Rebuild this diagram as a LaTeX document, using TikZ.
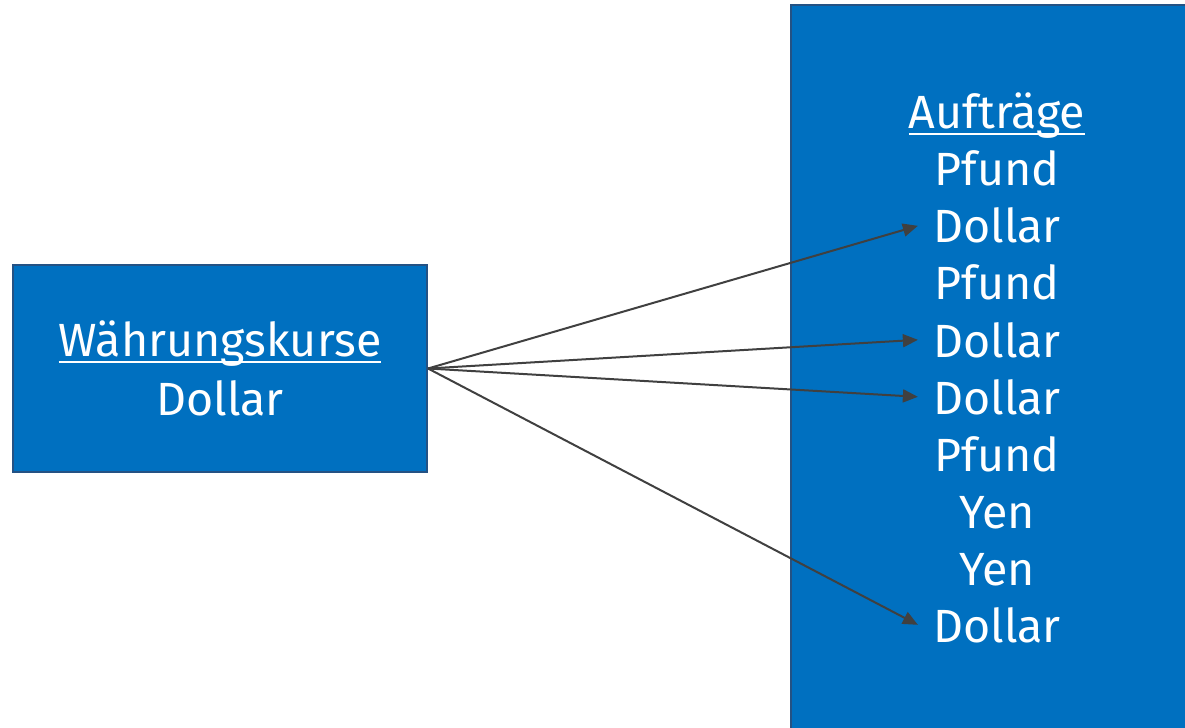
\documentclass[tikz,border=0pt]{standalone}
\usepackage{fontspec}
\setmainfont{Fira Sans}
\usetikzlibrary{arrows.meta}

\definecolor{boxblue}{RGB}{0,112,192}
\definecolor{boxedge}{RGB}{36,82,132}
\definecolor{arrowgray}{RGB}{64,64,64}

\newcommand{\ulword}[1]{\setbox0\hbox{#1}\rlap{\rule[-0.12cm]{\wd0}{0.04cm}}\box0}

\begin{document}
\begin{tikzpicture}[
bluebox/.style={rectangle, draw=boxedge, fill=boxblue, line width=0.04cm, inner sep=0pt},
itemtext/.style={anchor=base, text=white, inner xsep=0.3cm, inner ysep=0pt, font=\fontsize{26.5}{32.4}\selectfont},
link/.style={draw=arrowgray, line width=0.04cm, -{Triangle[length=0.3cm,width=0.26cm]}}
]
    \useasboundingbox (0,0) rectangle (23.7,14.54);
    \clip (0,0) rectangle (23.7,14.54);

    \node [bluebox, minimum width=8.28cm, minimum height=4.14cm, text=white, align=center,
           font=\fontsize{26.5}{33.6}\selectfont] (rates) at (4.40,7.17)
          {\ulword{Währungskurse}\\Dollar};

    \node [bluebox, minimum width=8.18cm, minimum height=14.74cm] (orders) at (19.91,7.07) {};

    \node [itemtext] (head) at (19.94,11.96) {\ulword{Aufträge}};
    \node [itemtext] (o1) at (19.94,10.82) {Pfund};
    \node [itemtext] (o2) at (19.94, 9.68) {Dollar};
    \node [itemtext] (o3) at (19.94, 8.54) {Pfund};
    \node [itemtext] (o4) at (19.94, 7.40) {Dollar};
    \node [itemtext] (o5) at (19.94, 6.26) {Dollar};
    \node [itemtext] (o6) at (19.94, 5.12) {Pfund};
    \node [itemtext] (o7) at (19.94, 3.98) {Yen};
    \node [itemtext] (o8) at (19.94, 2.84) {Yen};
    \node [itemtext] (o9) at (19.94, 1.70) {Dollar};

    \draw [link] (rates.east) -- (o2.west);
    \draw [link] (rates.east) -- (o4.west);
    \draw [link] (rates.east) -- (o5.west);
    \draw [link] (rates.east) -- (o9.west);
\end{tikzpicture}
\end{document}
